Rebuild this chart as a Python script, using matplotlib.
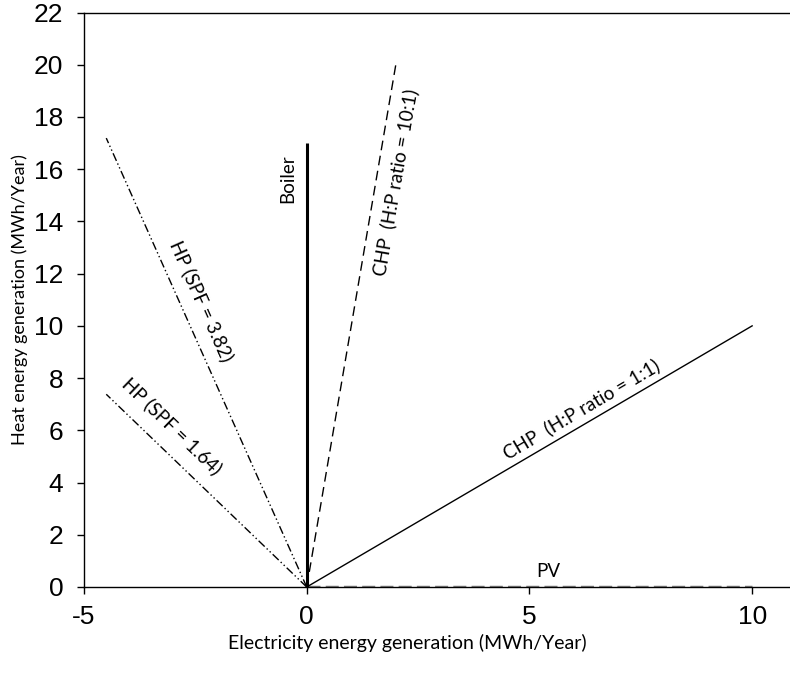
import matplotlib.pyplot as plt

plt.rcParams["axes.unicode_minus"] = False

# end points of each line (all lines start at the origin)
boiler_x = [0, 0]
boiler_y = [0, 17]
chp10_x = [0, 2]
chp10_y = [0, 20]
chp1_x = [0, 10]
chp1_y = [0, 10]
hp382_x = [0, -4.5]
hp382_y = [0, 17.19]
hp164_x = [0, -4.5]
hp164_y = [0, 7.38]
pv_x = [0, 10]
pv_y = [0, 0]

y_ticks = list(range(0, 23, 2))
x_ticks = [-5, 0, 5, 10]

fig = plt.figure(figsize=(7.9, 6.73), dpi=100)
ax = fig.add_axes([84 / 790, 86 / 673, 1 - 84 / 790, (587 - 12.5) / 673])

ax.plot(pv_x, pv_y, color="#808080", lw=2.5, ls=(0, (3.75, 1.5)), zorder=2)
ax.plot(boiler_x, boiler_y, color="black", lw=2.2, solid_capstyle="butt")
ax.plot(chp10_x, chp10_y, color="black", lw=1, ls=(0, (7, 4)))
ax.plot(chp1_x, chp1_y, color="black", lw=1)
ax.plot(hp382_x, hp382_y, color="black", lw=1, ls=(0, (6, 2, 1, 2, 1, 2)))
ax.plot(hp164_x, hp164_y, color="black", lw=1, ls=(0, (6, 2, 1, 2, 1, 2)))

lab = dict(family="Lato", fontsize=13.5, ha="center", va="center")
ax.text(-0.43, 15.65, "Boiler", rotation=90, **lab)
ax.text(2.0, 15.5, "CHP  (H:P ratio = 10:1)", rotation=80.2, **lab)
ax.text(-2.36, 10.96, "HP (SPF = 3.82)", rotation=-66, **lab)
ax.text(-3.02, 6.15, "HP (SPF = 1.64)", rotation=-44, **lab)
ax.text(6.17, 6.8, "CHP  (H:P ratio = 1:1)", rotation=30.5, **lab)
ax.text(5.43, 0.6, "PV", **lab)

ax.set_xlim(-5, 10.85)
ax.set_ylim(0, 22)
ax.set_xticks(x_ticks)
ax.set_yticks(y_ticks)
ax.spines["right"].set_visible(False)
for s in ["left", "bottom", "top"]:
    ax.spines[s].set_linewidth(1)
ax.tick_params(direction="out", length=5, width=1, labelsize=19)
ax.tick_params(axis="x", pad=8)
ax.tick_params(axis="y", pad=10)
for t in ax.get_xticklabels() + ax.get_yticklabels():
    t.set_family("Liberation Sans")

ax.set_xlabel("Electricity energy generation (MWh/Year)", family="Lato", fontsize=14)
ax.set_ylabel("Heat energy generation (MWh/Year)", family="Lato", fontsize=13)
ax.xaxis.set_label_coords((407 - 84) / 706, (673 - 634 - 86) / 574.5)
ax.yaxis.set_label_coords((28 - 84) / 706, 0.5)

fig.savefig("out.png", dpi=100)
